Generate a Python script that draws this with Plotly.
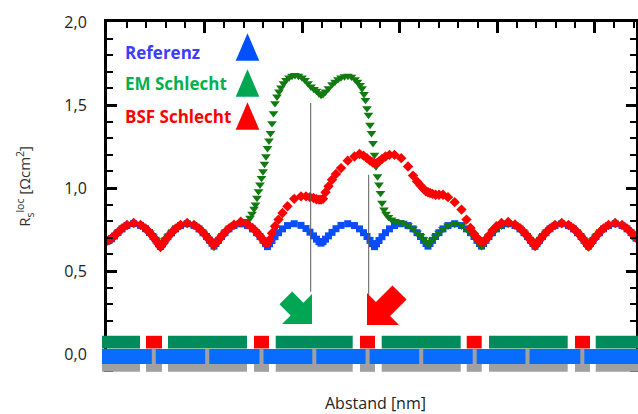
import math
import plotly.graph_objects as go

# Position along the cell [nm]
x_nm = [
    0, 20, 45, 75, 110, 150, 200, 267, 335, 385, 425, 460, 490, 515,
    535, 555, 580, 610, 645, 685, 735, 802, 870, 920, 960, 995, 1025, 1050,
    1070, 1090, 1115, 1145, 1180, 1220, 1270, 1337, 1405, 1455, 1495, 1530, 1560, 1585,
    1605, 1625, 1650, 1680, 1715, 1755, 1805, 1872, 1940, 1990, 2030, 2065, 2095, 2120,
    2140, 2160, 2185, 2215, 2250, 2290, 2340, 2407, 2475, 2525, 2565, 2600, 2630, 2655,
    2675, 2695, 2720, 2750, 2785, 2825, 2875, 2942, 3010, 3060, 3100, 3135, 3165, 3190,
    3210, 3230, 3255, 3285, 3320, 3360, 3410, 3477, 3545, 3595, 3635, 3670, 3700, 3725,
    3745, 3765, 3790, 3820, 3855, 3895, 3945, 4012, 4080, 4130, 4170, 4205, 4235, 4260,
    4280, 4300, 4325, 4355, 4390, 4430, 4480, 4547, 4615, 4665, 4705, 4740, 4770, 4795,
    4815, 4835, 4860, 4890, 4925, 4965, 5015, 5082, 5150, 5200, 5240, 5275, 5290,
]

# Local series resistance [Ohm cm^2]
referenz = [
    0.680, 0.684, 0.694, 0.711, 0.732, 0.754, 0.774, 0.786, 0.775, 0.755, 0.732, 0.708, 0.686, 0.666,
    0.648, 0.664, 0.684, 0.707, 0.730, 0.754, 0.774, 0.785, 0.774, 0.754, 0.731, 0.708, 0.686, 0.667,
    0.650, 0.666, 0.685, 0.708, 0.731, 0.754, 0.774, 0.784, 0.774, 0.754, 0.731, 0.708, 0.685, 0.665,
    0.647, 0.664, 0.684, 0.707, 0.731, 0.754, 0.774, 0.785, 0.775, 0.756, 0.734, 0.712, 0.692, 0.677,
    0.668, 0.677, 0.692, 0.712, 0.733, 0.755, 0.775, 0.785, 0.774, 0.754, 0.731, 0.708, 0.685, 0.665,
    0.647, 0.664, 0.684, 0.707, 0.731, 0.754, 0.774, 0.785, 0.774, 0.754, 0.731, 0.708, 0.685, 0.666,
    0.650, 0.666, 0.685, 0.708, 0.731, 0.754, 0.774, 0.785, 0.774, 0.754, 0.731, 0.708, 0.685, 0.666,
    0.650, 0.666, 0.685, 0.708, 0.731, 0.754, 0.774, 0.785, 0.774, 0.754, 0.731, 0.708, 0.685, 0.666,
    0.649, 0.665, 0.685, 0.708, 0.731, 0.754, 0.774, 0.785, 0.774, 0.754, 0.731, 0.708, 0.685, 0.666,
    0.650, 0.666, 0.685, 0.708, 0.731, 0.754, 0.774, 0.785, 0.774, 0.754, 0.731, 0.710, 0.698,
]

# The emitter-defect run is sampled more finely across its steep flanks
em_x = [
    0, 20, 45, 75, 110, 150, 200, 267, 335, 385, 425, 460, 490, 515,
    535, 555, 580, 610, 645, 685, 735, 802, 870, 920, 960, 995, 1025, 1050,
    1070, 1090, 1115, 1145, 1180, 1220, 1270, 1337,
    1405, 1430, 1450, 1470, 1485, 1500, 1515, 1530, 1545, 1560, 1575, 1590,
    1605, 1620, 1635, 1650, 1665, 1680, 1700, 1720, 1740, 1765, 1790, 1820,
    1850, 1880, 1915, 1950, 1980, 2010, 2040, 2070, 2095, 2120, 2140, 2160,
    2185, 2215, 2250, 2280, 2310, 2340, 2375, 2410, 2445, 2480, 2505, 2530,
    2550, 2570, 2585, 2600, 2615, 2630, 2645, 2660, 2675, 2690, 2705, 2720,
    2735, 2750, 2770, 2790, 2815, 2845, 2880, 2920, 2960, 3010, 3060,
    3100, 3135, 3165, 3190,
    3210, 3230, 3255, 3285, 3320, 3360, 3410, 3477, 3545, 3595, 3635, 3670, 3700, 3725,
    3745, 3765, 3790, 3820, 3855, 3895, 3945, 4012, 4080, 4130, 4170, 4205, 4235, 4260,
    4280, 4300, 4325, 4355, 4390, 4430, 4480, 4547, 4615, 4665, 4705, 4740, 4770, 4795,
    4815, 4835, 4860, 4890, 4925, 4965, 5015, 5082, 5150, 5200, 5240, 5275, 5290,
]

em_schlecht = [
    0.678, 0.683, 0.693, 0.710, 0.731, 0.753, 0.773, 0.784, 0.774, 0.754, 0.731, 0.707, 0.684, 0.664,
    0.650, 0.665, 0.685, 0.708, 0.731, 0.754, 0.774, 0.784, 0.774, 0.753, 0.730, 0.706, 0.683, 0.662,
    0.645, 0.662, 0.683, 0.707, 0.731, 0.754, 0.775, 0.790,
    0.800, 0.820, 0.845, 0.875, 0.900, 0.940, 0.980, 1.020, 1.060, 1.100, 1.145, 1.190,
    1.240, 1.285, 1.330, 1.390, 1.450, 1.510, 1.550, 1.580, 1.605, 1.630, 1.650, 1.665,
    1.675, 1.680, 1.675, 1.665, 1.650, 1.630, 1.610, 1.595, 1.585, 1.570, 1.560, 1.565,
    1.580, 1.600, 1.625, 1.640, 1.655, 1.665, 1.672, 1.675, 1.670, 1.655, 1.640, 1.620,
    1.600, 1.565, 1.530, 1.480, 1.440, 1.380, 1.330, 1.270, 1.200, 1.130, 1.070, 1.020,
    0.970, 0.910, 0.870, 0.845, 0.825, 0.810, 0.800, 0.795, 0.790, 0.775, 0.755,
    0.730, 0.710, 0.690, 0.675,
    0.660, 0.668, 0.685, 0.707, 0.730, 0.753, 0.773, 0.784, 0.773, 0.753, 0.730, 0.706, 0.683, 0.663,
    0.648, 0.664, 0.684, 0.707, 0.730, 0.753, 0.773, 0.784, 0.773, 0.753, 0.730, 0.706, 0.683, 0.663,
    0.647, 0.663, 0.683, 0.707, 0.730, 0.753, 0.773, 0.784, 0.773, 0.753, 0.730, 0.706, 0.683, 0.663,
    0.648, 0.664, 0.684, 0.707, 0.730, 0.753, 0.773, 0.784, 0.773, 0.753, 0.730, 0.708, 0.698,
]

bsf_schlecht = [
    0.682, 0.687, 0.697, 0.713, 0.734, 0.756, 0.777, 0.790, 0.778, 0.757, 0.733, 0.708, 0.684, 0.663,
    0.645, 0.662, 0.683, 0.707, 0.731, 0.755, 0.777, 0.790, 0.778, 0.757, 0.733, 0.709, 0.687, 0.670,
    0.657, 0.670, 0.688, 0.710, 0.733, 0.757, 0.779, 0.797, 0.782, 0.760, 0.736, 0.711, 0.688, 0.670,
    0.665, 0.688, 0.728, 0.770, 0.810, 0.850, 0.890, 0.935, 0.950, 0.950, 0.945, 0.940, 0.932, 0.930,
    0.930, 0.935, 0.975, 1.010, 1.050, 1.085, 1.120, 1.165, 1.190, 1.205, 1.195, 1.180, 1.165, 1.155,
    1.150, 1.150, 1.160, 1.175, 1.190, 1.200, 1.200, 1.180, 1.130, 1.075, 1.040, 1.015, 0.995, 0.980,
    0.975, 0.970, 0.965, 0.960, 0.960, 0.960, 0.945, 0.915, 0.870, 0.810, 0.760, 0.725, 0.700, 0.685,
    0.675, 0.675, 0.690, 0.715, 0.745, 0.770, 0.790, 0.795, 0.780, 0.758, 0.734, 0.710, 0.687, 0.668,
    0.652, 0.666, 0.686, 0.709, 0.733, 0.756, 0.777, 0.789, 0.777, 0.756, 0.733, 0.709, 0.686, 0.666,
    0.648, 0.665, 0.685, 0.709, 0.733, 0.757, 0.778, 0.790, 0.778, 0.757, 0.734, 0.711, 0.700,
]

y_tick_vals = [0.0, 0.5, 1.0, 1.5, 2.0]

series_names = ["Referenz", "EM Schlecht", "BSF Schlecht"]

# Cell cross-section drawn under the curves [nm]
emitter_regions = [(-50, 330), (610, 1400), (1687, 2457), (2747, 3537), (3820, 4607), (4887, 5310)]
contact_regions = [(390, 550), (1470, 1620), (2530, 2680), (3597, 3747), (4680, 4830)]
base_region = (-50, 5310)
base_marks = [468, 1002, 1545, 2073, 2606, 3142, 3677, 4205, 4753]

# Markers of the two defect positions [nm]
em_defect_x = 2037
bsf_defect_x = 2617

# ---------------- layout geometry ----------------
W, H = 638, 414
M_L, M_R, M_T, M_B = 107, 2, 22, 42
X_MAX = 5290
Y_MIN, Y_MAX = -0.108, 2.0
plot_w = W - M_L - M_R
plot_h = H - M_T - M_B
NM_PER_PX = X_MAX / plot_w
VAL_PER_PX = (Y_MAX - Y_MIN) / plot_h


def px(x):
    return x / X_MAX


def py(v):
    return (v - Y_MIN) / (Y_MAX - Y_MIN)


C_BLUE = "#0b4cff"
C_GREEN = "#117a11"
C_RED = "#ff0000"

fig = go.Figure()

fig.add_trace(go.Scatter(
    x=x_nm, y=referenz, mode="markers", name=series_names[0],
    marker=dict(symbol="square", size=7, color=C_BLUE, line=dict(width=0)),
))
fig.add_trace(go.Scatter(
    x=em_x, y=em_schlecht, mode="markers", name=series_names[1],
    marker=dict(symbol="triangle-down", size=8.5, color=C_GREEN, line=dict(width=0)),
))
fig.add_trace(go.Scatter(
    x=x_nm, y=bsf_schlecht, mode="markers", name=series_names[2],
    marker=dict(symbol="diamond", size=8, color=C_RED, line=dict(width=0)),
))

# thin guide lines from the curves down to the arrows
for gx, y_top, y_bot in [(em_defect_x, 1.512, 0.375), (bsf_defect_x, 1.08, 0.355)]:
    fig.add_trace(go.Scatter(x=[gx, gx], y=[y_top, y_bot], mode="lines",
                             line=dict(color="#5a5a5a", width=1), hoverinfo="skip"))


def block_arrow(tip_x, tip_y, dx, dy, leg, half_w, length, color):
    """Thick 45-degree block arrow; geometry in pixels, tip in data units."""
    n = math.hypot(dx, dy)
    dx, dy = dx / n, dy / n
    qx, qy = -dy, dx
    h = leg / math.sqrt(2)
    pts = [
        (0, 0),
        (-h * dx + h * qx, -h * dy + h * qy),
        (-h * dx + half_w * qx, -h * dy + half_w * qy),
        (-length * dx + half_w * qx, -length * dy + half_w * qy),
        (-length * dx - half_w * qx, -length * dy - half_w * qy),
        (-h * dx - half_w * qx, -h * dy - half_w * qy),
        (-h * dx - h * qx, -h * dy - h * qy),
        (0, 0),
    ]
    xs = [tip_x + p[0] * NM_PER_PX for p in pts]
    ys = [tip_y - p[1] * VAL_PER_PX for p in pts]
    fig.add_trace(go.Scatter(x=xs, y=ys, mode="lines", fill="toself",
                             fillcolor=color, line=dict(width=0, color=color),
                             hoverinfo="skip"))


block_arrow(2050, 0.181, 1, 1, 30, 9, 37, "#00a651")
block_arrow(2600, 0.175, -1, 1, 32, 10, 46, "#ff0000")

# legend block: labels and large triangles
legend_items = [
    ("Referenz", "#3c3cff", "#0050ff", 1.819, 1.849),
    ("EM Schlecht", "#00b050", "#00a651", 1.629, 1.633),
    ("BSF Schlecht", "#ff0000", "#ff0000", 1.428, 1.434),
]
tri_x, tri_w, tri_h = 1405, 23.6, 27.4
annotations = []
for label, tcol, fcol, ty, cy in legend_items:
    annotations.append(dict(x=157, y=ty, xref="x", yref="y", text=f"<b>{label}</b>",
                            showarrow=False, xanchor="left", yanchor="middle",
                            font=dict(family="Open Sans", size=17, color=tcol)))
    hw = tri_w / 2 * NM_PER_PX
    hh = tri_h / 2 * VAL_PER_PX
    fig.add_trace(go.Scatter(x=[tri_x - hw, tri_x + hw, tri_x, tri_x - hw],
                             y=[cy - hh, cy - hh, cy + hh, cy - hh],
                             mode="lines", fill="toself", fillcolor=fcol,
                             line=dict(width=0, color=fcol), hoverinfo="skip"))

annotations.append(dict(x=0.5076, y=-0.089, xref="paper", yref="paper",
                        text="Abstand [nm]", showarrow=False,
                        xanchor="center", yanchor="middle",
                        font=dict(family="Open Sans", size=16, color="#222222")))
annotations.append(dict(x=-0.155, y=0.529, xref="paper", yref="paper",
                        text="R<sub>s</sub><sup>loc</sup> [Ωcm<sup>2</sup>]",
                        textangle=-90, showarrow=False,
                        xanchor="center", yanchor="middle",
                        font=dict(family="Open Sans", size=15, color="#333333")))

# cell cross-section bands
shapes = []
row_green = (0.034, 0.110)
row_blue = (-0.060, 0.030)
row_grey = (-0.107, -0.060)


def band(x0, x1, r, color):
    shapes.append(dict(type="rect", xref="paper", yref="paper",
                       x0=px(x0), x1=px(x1), y0=py(r[0]), y1=py(r[1]),
                       fillcolor=color, line=dict(width=0), layer="above"))


for a, b in emitter_regions + contact_regions:
    band(a, b, row_grey, "#a0a0a0")
band(base_region[0], base_region[1], row_blue, "#0a6cff")
for m in base_marks:
    band(m - 20, m + 20, row_blue, "#a0a0a0")
for a, b in emitter_regions:
    band(a, b, row_green, "#008c5a")
for a, b in contact_regions:
    band(a, b, row_green, "#ff0000")

fig.update_layout(
    width=W, height=H,
    margin=dict(l=M_L, r=M_R, t=M_T, b=M_B, autoexpand=False),
    paper_bgcolor="white", plot_bgcolor="white",
    showlegend=False,
    separators=",.",
    annotations=annotations,
    shapes=shapes,
    xaxis=dict(
        range=[0, X_MAX], side="top", showline=True, linecolor="black", linewidth=3,
        ticks="inside", ticklen=11, tickwidth=2.5, tickcolor="black",
        tick0=0, dtick=975, showticklabels=False, showgrid=False, zeroline=False,
        minor=dict(ticks="inside", ticklen=6, tickwidth=2, tickcolor="black", dtick=195),
    ),
    yaxis=dict(
        range=[Y_MIN, Y_MAX], showline=True, linecolor="black", linewidth=3,
        mirror="ticks", ticks="inside", ticklen=10, tickwidth=2.5, tickcolor="black",
        tickvals=y_tick_vals, tickformat=".1f", ticklabelstandoff=14,
        tickfont=dict(family="Open Sans", size=16, color="#222222"),
        showgrid=False, zeroline=False,
        minor=dict(ticks="inside", ticklen=6, tickwidth=2, tickcolor="black", dtick=0.1),
    ),
)

fig.write_html("out.html")
